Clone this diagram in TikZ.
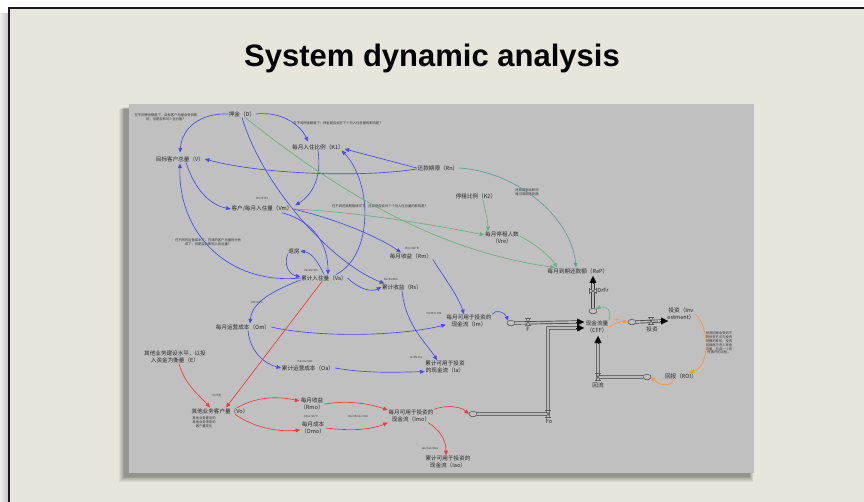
\documentclass[tikz,border=0pt]{standalone}
\usepackage{fontspec}
\setmainfont{Liberation Sans}
\newfontfamily\cjk{Noto Sans CJK SC}
\usetikzlibrary{arrows.meta,shapes.symbols,calc}

\definecolor{panel}{RGB}{232,230,220}
\definecolor{canvas}{RGB}{192,192,192}
\definecolor{lnblue}{RGB}{72,72,245}
\definecolor{lnred}{RGB}{245,55,55}
\definecolor{lngreen}{RGB}{100,178,122}
\definecolor{lnteal}{RGB}{88,158,150}
\definecolor{lnorange}{RGB}{250,150,45}

\tikzset{
  var/.style={font=\cjk\fontsize{5.6}{6.6}\selectfont, inner sep=0.6pt, align=center, text=black!85},
  note/.style={font=\cjk\fontsize{3.3}{3.9}\selectfont, inner sep=0.3pt, align=center, text=black!80},
  eqn/.style={font=\cjk\fontsize{2.8}{3.2}\selectfont, inner sep=0.2pt, text=black!80},
  link/.style={line width=0.65pt, -{Triangle[length=4.6pt,width=3.8pt]}},
  cb/.style={link, draw=lnblue},
  cr/.style={link, draw=lnred},
  cg/.style={link, draw=lngreen},
  ct/.style={link, draw=lnteal},
  co/.style={link, draw=lnorange},
  pipe/.style={draw=black!75, line width=0.7pt, double=gray!55, double distance=1.8pt},
  pipetip/.style={draw=black, line width=0.4pt, -{Triangle[length=7pt,width=7pt]}},
  cloudnode/.style={cloud, cloud puffs=7, cloud puff arc=110, aspect=1.4, draw=black!80,
    fill=canvas, line width=0.4pt, minimum width=8pt, minimum height=6pt, inner sep=0pt},
  valvex/.pic={\draw[black!80, fill=gray!45, line width=0.4pt]
    (-2.4,-3.6) -- (2.4,-3.6) -- (-2.4,3.6) -- (2.4,3.6) -- cycle;}
}

\begin{document}
\begin{tikzpicture}[x=1pt,y=-1pt]
\useasboundingbox (0,0) rectangle (864,502);
\fill[white] (0,0) rectangle (864,502);

% slide panel
\shade[left color=gray!12, right color=gray!50] (0,14) rectangle (9,502);
\fill[panel] (9,8) rectangle (864,502);
\draw[black!90, line width=2pt] (9,502) -- (9,8) -- (864,8);

\node[font=\bfseries\fontsize{31}{36}\selectfont] (title) at (432,58) {System dynamic analysis};

% model canvas with soft shadow (falls down and to the left)
\foreach \k in {1,...,7}
  \fill[black, opacity=0.06] ({125-0.8*\k},{107+0.3*\k}) rectangle ({749+0.6*\k},{476+0.8*\k});
\fill[canvas] (129,104) rectangle (754,473);

% ---------------- variables ----------------
\node[var] (D)   at (242,114) {押金（D）};
\node[var] (K1)  at (318,147) {每月入住比例（K1）};
\node[var] (V)   at (180,159) {目标客户总量（V）};
\node[var] (Vm)  at (262,209) {客户/每月入住量（Vm）};
\node[var] (Rn)  at (438,168) {还款期限（Rn）};
\node[var] (K2)  at (476,196) {停租比例（K2）};
\node[var] (Vre) at (502,238) {每月停租人数\\（Vre）};
\node[var] (ReP) at (578,271) {每月到期还款额（ReP）};
\node[var] (Rm)  at (411,256) {每月收益（Rm）};
\node[var] (Rs)  at (402,287) {累计收益（Rs）};
\node[var] (TF)  at (294,251) {退房};
\node[var] (Va)  at (324,278) {累计入住量（Va）};
\node[var] (Om)  at (243,327) {每月运营成本（Om）};
\node[var] (Oa)  at (308,368) {累计运营成本（Oa）};
\node[var] (Im)  at (469,321) {每月可用于投资的\\现金流（Im）};
\node[var] (Ia)  at (445,367) {累计可用于投资\\的现金流（Ia）};
\node[var] (E)   at (175,357) {其他业务建设水平，以投\\入资金为衡量（E）};
\node[var] (Vo)  at (220,411) {其他业务客户量（Vo）};
\node[var] (Rmo) at (312,404) {每月收益\\（Rmo）};
\node[var] (Omo) at (313,428) {每月成本\\（Omo）};
\node[var] (Imo) at (411,416) {每月可用于投资的\\现金流（Imo）};
\node[var] (Iao) at (448,462) {累计可用于投资的\\现金流（Iao）};
\node[var] (CFF) at (597,327) {现金流量\\（CFF）};
\node[var] (Inv) at (681,314) {投资（Inv\\estment）};
\node[var] (ROI) at (681,376) {回报（ROI）};

% comments
\node[note] (nD1) at (166,117) {在不同押金额度下，目标客户总量会受到影\\响，但是否影响入住总量？};
\node[note] (nD2) at (338,123) {在不同押金额度下，押金是否会在下个月入住总量的影响是？};
\node[note] (nMid) at (380,206) {在不同还款期限情况下，还款是否会对下个月入住总量的影响是？};
\node[note] (nRn) at (527,192) {还款期限会影响\\每月到期还款额};
\node[note] (nL) at (208,242) {在不同的运营成本下，在线的客户总量的分析\\成下，但是否会影响入住总量？};
\node[note] (nVo) at (204,422) {其他业务建设的\\其他业务带来的\\客户量变化};
\node[note] (nInv) at (719,343) {投资回报会受到不\\同投资方式与投资\\规模的影响，投资\\回报再次进入现金\\流量，形成一个良\\性循环的过程。};

% equations
\node[eqn] (eVm) at (262,198) {Vm=V*K1};
\node[eqn] (eRm) at (412,248) {Rm=Vm*R};
\node[eqn] (eRs) at (391,279) {Rs=Rs+Rm};
\node[eqn] (eVa) at (311,270) {Va=Va+Vm};
\node[eqn] (eOm) at (257,302) {Om=Va*C};
\node[eqn] (eOa) at (305,361) {Oa=Oa+Om};
\node[eqn] (eIm) at (434,313) {Im=Rm-Om};
\node[eqn] (eIa) at (416,357) {Ia=Rs-Oa};
\node[eqn] (eVo) at (217,396) {Vo=f(E)};
\node[eqn] (eOmo) at (311,416) {Omo=Vo*C};
\node[eqn] (eImo) at (358,416) {Imo=Rmo-Omo};
\node[eqn] (eIao) at (430,448) {Iao=Iao+Imo};

% ---------------- stock and flow pipes ----------------
\node[cloudnode] (cl1) at (511,323) {};
\node[cloudnode] (cl2) at (473,414) {};
\node[cloudnode] (cl3) at (632,322) {};
\node[cloudnode] (cl4) at (647,377) {};
\node[cloudnode] (cl5) at (593,311) {};

\coordinate (tF)   at (584,322);
\coordinate (tFo)  at (584,328);
\coordinate (tDr)  at (593,276);
\coordinate (tInv) at (668,321);
\coordinate (tRet) at (598,336);
\coordinate (kFo)  at (548,414);
\coordinate (kUp)  at (548,328);
\coordinate (kRet) at (598,377);

\draw[pipe] (cl1.east) -- ($(tF)+(-6,0)$);
\draw[pipetip] ($(tF)+(-8,0)$) -- (tF);
\draw[pipe] (cl2.east) -- (kFo) -- (kUp) -- ($(tFo)+(-6,0)$);
\draw[pipetip] ($(tFo)+(-8,0)$) -- (tFo);
\draw[pipe] (cl5.north) -- ($(tDr)+(0,6)$);
\draw[pipetip] ($(tDr)+(0,8)$) -- (tDr);
\draw[pipe] (cl3.east) -- ($(tInv)+(-6,0)$);
\draw[pipetip] ($(tInv)+(-8,0)$) -- (tInv);
\draw[pipe] (cl4.west) -- (kRet) -- ($(tRet)+(0,6)$);
\draw[pipetip] ($(tRet)+(0,8)$) -- (tRet);

\pic (vF)   at (528,322) {valvex};
\pic (vFo)  at (548,414) {valvex};
\pic[rotate=90] (vDr) at (593,291) {valvex};
\pic (vInv) at (651,321) {valvex};
\pic (vRet) at (598,377) {valvex};

\node[var] (lF)   at (528,329) {F};
\node[var] (lFo)  at (549,421) {Fo};
\node[var] (lDr)  at (603,290) {DrFr};
\node[var] (lInv) at (652,329) {投资};
\node[var] (lRet) at (598,385) {回流};

% ---------------- causal links ----------------
\draw[cb] (D.west) .. controls (200,113) and (182,128) .. ([yshift=3pt]V.north);
\draw[cb] (D.east) .. controls (280,111) and (300,124) .. ([xshift=-10pt,yshift=2pt]K1.north);
\draw[cb] (D.south) .. controls (262,185) and (330,262) .. ([xshift=3pt]Rs.north west);
\draw[cb] ([xshift=6pt]V.south) .. controls (195,190) and (210,205) .. (Vm.west);
\draw[cb] (Va.west) .. controls (230,285) and (178,235) .. ([yshift=-1pt]V.south);
\draw[cb] (K1.south) .. controls (322,178) and (312,195) .. ([xshift=2pt]Vm.north east);
\draw[cb] (Rn.west) -- ([yshift=-2pt]K1.east);
\draw[cb] ([yshift=-1pt]Rn.west) .. controls (360,178) and (260,174) .. (V.east);
\draw[cb] ([xshift=12pt]Va.north) .. controls (374,255) and (372,182) .. ([xshift=-3pt]K1.south east);
\draw[cb] (Vm.east) .. controls (340,220) and (380,238) .. ([xshift=-10pt]Rm.north);
\draw[cb] ([xshift=20pt]Vm.south) .. controls (315,222) and (328,245) .. ([xshift=4pt]Va.north);
\draw[cb] (Va.east) .. controls (360,290) and (372,292) .. (Rs.west);
\draw[cb] (Va.north) .. controls (318,262) and (312,253) .. (TF.east);
\draw[cb] (TF.south west) .. controls (284,264) and (288,274) .. ([yshift=1pt]Va.west);
\draw[cb] ([yshift=-2pt]Va.west) .. controls (270,292) and (252,303) .. ([xshift=7pt]Om.north);
\draw[cb] ([xshift=5pt]Om.south) .. controls (250,352) and (265,364) .. (Oa.west);
\draw[cb] (Om.east) .. controls (320,338) and (400,336) .. ([yshift=3pt]Im.south west);
\draw[cb] (Oa.east) .. controls (370,374) and (400,372) .. ([yshift=2pt]Ia.south west);
\draw[cb] (Rm.south east) .. controls (440,272) and (458,295) .. ([xshift=-5pt]Im.north);
\draw[cb] (Rs.south) .. controls (405,325) and (428,345) .. ([xshift=-8pt]Ia.north);
\draw[cb] (Im.north east) .. controls (495,309) and (505,312) .. (cl1.north west);

\draw[cr] ([xshift=-2pt]Va.south) -- ([xshift=6pt]Vo.north);
\draw[cr] ([xshift=4pt]E.south) .. controls (185,385) and (200,396) .. ([xshift=-10pt]Vo.north);
\draw[cr] ([xshift=-12pt]Vo.north east) .. controls (260,395) and (282,397) .. ([yshift=3pt]Rmo.west);
\draw[cr] ([xshift=-14pt]Vo.south east) .. controls (255,428) and (278,432) .. ([yshift=-2pt]Omo.west);
\draw[cr] (Rmo.east) .. controls (350,400) and (370,404) .. ([yshift=6pt]Imo.west);
\draw[cr] (Omo.east) .. controls (350,431) and (370,430) .. (Imo.south west);
\draw[cr] (Imo.north east) .. controls (445,405) and (460,406) .. (cl2.west);
\draw[cr] ([xshift=-6pt]Imo.south east) .. controls (440,430) and (446,440) .. ([xshift=-2pt]Iao.north);

\draw[cg] ([xshift=3pt]D.south) .. controls (330,185) and (430,250) .. ([xshift=8pt]ReP.north west);
\draw[cg] (Vm.east) .. controls (360,212) and (440,226) .. ([yshift=3pt]Vre.west);
\draw[cg] ([xshift=7pt]K2.south) .. controls (485,210) and (488,222) .. ([xshift=-14pt]Vre.north);
\draw[cg] ([yshift=2pt]Vre.east) .. controls (535,244) and (550,256) .. ([xshift=10pt]ReP.north west);
\draw[ct] (Rn.east) .. controls (520,172) and (572,220) .. ([xshift=29pt]ReP.north west);
\draw[cg] (CFF.north east) .. controls (612,310) and (606,305) .. (cl5.north east);

\draw[co] (CFF.east) .. controls (615,323) and (622,321) .. (cl3.west);
\node[text=lnorange, font=\fontsize{10}{10}\selectfont, inner sep=0pt] (plus) at (617,321) {+};
\draw[co] (Inv.east) .. controls (710,328) and (710,366) .. ([xshift=-8pt]ROI.north east);
\draw[co] ([xshift=9pt]ROI.south west) .. controls (672,387) and (660,386) .. (cl4.east);
\end{tikzpicture}
\end{document}
